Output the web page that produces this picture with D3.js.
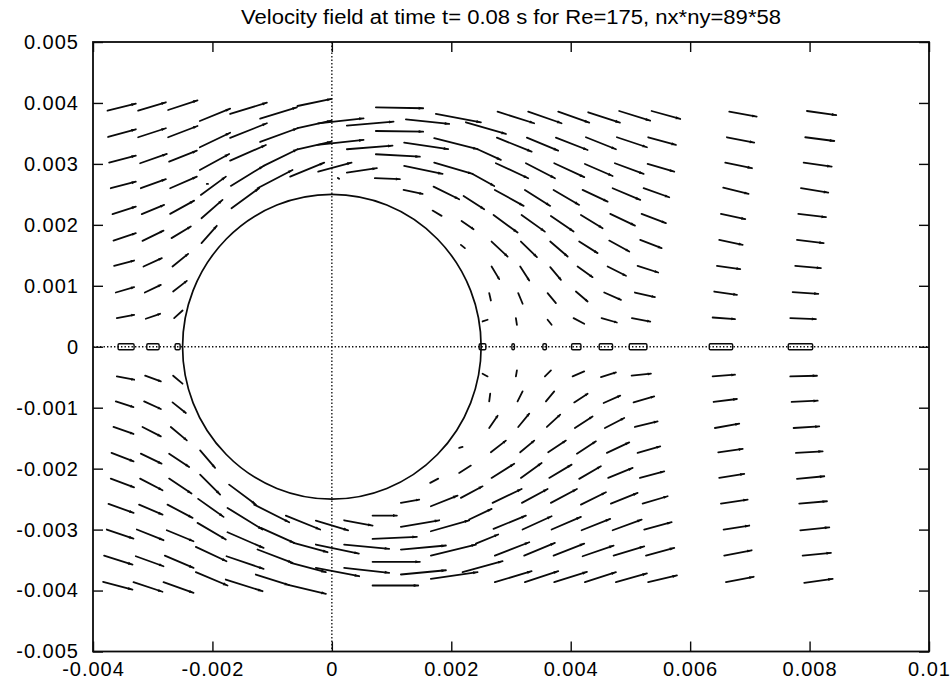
<!DOCTYPE html>
<html>
<head>
<meta charset="utf-8">
<script src="https://cdn.jsdelivr.net/npm/d3@7"></script>
<style>
  body { margin: 0; background: #fff; }
  svg text { font-family: "Liberation Sans", Arial, Helvetica, sans-serif; fill: #000; }
</style>
</head>
<body>
<svg id="chart" width="950" height="693"></svg>
<script>
// ---- labels and ticks ----
const titleText = "Velocity field at time t= 0.08 s for Re=175, nx*ny=89*58";
const xTicks = [-0.004, -0.002, 0, 0.002, 0.004, 0.006, 0.008, 0.01];
const xTickLabels = ["-0.004", "-0.002", "0", "0.002", "0.004", "0.006", "0.008", "0.01"];
const yTicks = [-0.005, -0.004, -0.003, -0.002, -0.001, 0, 0.001, 0.002, 0.003, 0.004, 0.005];
const yTickLabels = ["-0.005", "-0.004", "-0.003", "-0.002", "-0.001", "0", "0.001", "0.002", "0.003", "0.004", "0.005"];

// cylinder (m)
const cylinder = { cx: 0, cy: 0, r: 0.0025 };

// ---- velocity vectors: [x, y, dx, dy] in metres ----
const upstream = [
  [-0.003757, 0.003873, 0.000474, 0.000115], [-0.003747, 0.003442, 0.000464, 0.000126],
  [-0.003730, 0.003021, 0.000447, 0.000115], [-0.003702, 0.002601, 0.000419, 0.000108],
  [-0.003673, 0.002175, 0.000390, 0.000125], [-0.003657, 0.001742, 0.000374, 0.000121],
  [-0.003647, 0.001328, 0.000335, 0.000087], [-0.003618, 0.000890, 0.000307, 0.000089],
  [-0.003601, 0.000470, 0.000290, 0.000054], [-0.003601, -0.000487, 0.000290, -0.000054],
  [-0.003618, -0.000897, 0.000296, -0.000092], [-0.003657, -0.001316, 0.000335, -0.000115],
  [-0.003690, -0.001742, 0.000369, -0.000138], [-0.003702, -0.002163, 0.000390, -0.000143],
  [-0.003740, -0.002578, 0.000419, -0.000148], [-0.003769, -0.002999, 0.000447, -0.000148],
  [-0.003814, -0.003426, 0.000476, -0.000148], [-0.003831, -0.003857, 0.000492, -0.000126],

  [-0.003244, 0.003873, 0.000464, 0.000138], [-0.003244, 0.003437, 0.000464, 0.000148],
  [-0.003211, 0.003011, 0.000447, 0.000152], [-0.003199, 0.002601, 0.000419, 0.000148],
  [-0.003183, 0.002175, 0.000374, 0.000152], [-0.003171, 0.001737, 0.000352, 0.000169],
  [-0.003154, 0.001316, 0.000307, 0.000138], [-0.003132, 0.000890, 0.000268, 0.000126],
  [-0.003116, 0.000459, 0.000240, 0.000082], [-0.003127, -0.000475, 0.000263, -0.000093],
  [-0.003144, -0.000897, 0.000280, -0.000125], [-0.003171, -0.001316, 0.000307, -0.000154],
  [-0.003199, -0.001754, 0.000347, -0.000164], [-0.003211, -0.002163, 0.000375, -0.000192],
  [-0.003228, -0.002590, 0.000392, -0.000164], [-0.003266, -0.002999, 0.000447, -0.000175],
  [-0.003283, -0.003437, 0.000464, -0.000164], [-0.003322, -0.003863, 0.000486, -0.000157],

  [-0.002742, 0.003884, 0.000492, 0.000159], [-0.002742, 0.003437, 0.000492, 0.000185],
  [-0.002725, 0.003037, 0.000464, 0.000180], [-0.002708, 0.002601, 0.000447, 0.000190],
  [-0.002708, 0.002180, 0.000402, 0.000218], [-0.002685, 0.001782, 0.000323, 0.000190],
  [-0.002668, 0.001316, 0.000261, 0.000208], [-0.002658, 0.000906, 0.000229, 0.000175],
  [-0.002641, 0.000470, 0.000141, 0.000125], [-0.002658, -0.000475, 0.000157, -0.000131],
  [-0.002668, -0.000913, 0.000223, -0.000174], [-0.002697, -0.001316, 0.000268, -0.000220],
  [-0.002725, -0.001754, 0.000335, -0.000218], [-0.002725, -0.002163, 0.000375, -0.000246],
  [-0.002752, -0.002590, 0.000419, -0.000218], [-0.002764, -0.003011, 0.000447, -0.000180],
  [-0.002797, -0.003426, 0.000481, -0.000202], [-0.002819, -0.003863, 0.000503, -0.000174]
];

const aboveCylinder = [
  [-0.002211, 0.003704, 0.000508, 0.000202], [-0.002211, 0.003273, 0.000508, 0.000239],
  [-0.002211, 0.002901, 0.000491, 0.000262], [-0.002194, 0.002491, 0.000419, 0.000300],
  [-0.002183, 0.002109, 0.000352, 0.000300], [-0.002183, 0.001700, 0.000256, 0.000284],

  [-0.001703, 0.003819, 0.000615, 0.000185], [-0.001703, 0.003426, 0.000615, 0.000241],
  [-0.001703, 0.003053, 0.000598, 0.000257], [-0.001692, 0.002639, 0.000548, 0.000328],
  [-0.001680, 0.002273, 0.000462, 0.000328],

  [-0.001201, 0.003742, 0.000615, 0.000187], [-0.001201, 0.003360, 0.000626, 0.000225],
  [-0.001144, 0.002967, 0.000570, 0.000274], [-0.001245, 0.002601, 0.000586, 0.000300],

  [-0.000575, 0.003950, 0.000570, 0.000115], [-0.000575, 0.003585, 0.000570, 0.000125],
  [-0.000575, 0.003240, 0.000570, 0.000125], [-0.000698, 0.002791, 0.000570, 0.000229],

  [-0.000229, 0.003666, 0.000760, 0.000082], [-0.000240, 0.003311, 0.000771, 0.000082],
  [-0.000229, 0.002873, 0.000559, 0.000148],

  [0.000251, 0.003627, 0.000782, 0.000066], [0.000251, 0.003240, 0.000765, 0.000059],
  [0.000251, 0.002857, 0.000503, 0.000072],

  [0.000737, 0.003929, 0.000792, -0.000016], [0.000737, 0.003540, 0.000792, -0.000011],
  [0.000737, 0.003158, 0.000737, -0.000039], [0.000720, 0.002765, 0.000419, -0.000016],

  [0.001240, 0.003732, 0.000725, -0.000077], [0.001211, 0.003349, 0.000737, -0.000108],
  [0.001211, 0.002967, 0.000643, -0.000131], [0.001201, 0.002573, 0.000318, -0.000066],

  [0.001742, 0.003819, 0.000754, -0.000136], [0.001714, 0.003421, 0.000727, -0.000180],
  [0.001714, 0.003021, 0.000643, -0.000185], [0.001703, 0.002627, 0.000429, -0.000207],
  [0.001687, 0.002234, 0.000151, -0.000087],

  [0.002245, 0.003683, 0.000670, -0.000192], [0.002440, 0.003240, 0.000390, -0.000175],
  [0.002357, 0.002835, 0.000362, -0.000197], [0.002206, 0.002475, 0.000345, -0.000218],
  [0.002172, 0.002065, 0.000201, -0.000136], [0.002161, 0.001672, 0.000067, -0.000054]
];

const belowCylinder = [
  [-0.002206, -0.001700, 0.000251, -0.000288], [-0.002206, -0.002098, 0.000335, -0.000328],
  [-0.002239, -0.002496, 0.000425, -0.000295], [-0.002250, -0.002890, 0.000474, -0.000274],
  [-0.002278, -0.003283, 0.000514, -0.000236], [-0.002278, -0.003699, 0.000531, -0.000218],

  [-0.001720, -0.002262, 0.000447, -0.000328], [-0.001747, -0.002644, 0.000586, -0.000356],
  [-0.001747, -0.003044, 0.000603, -0.000256], [-0.001764, -0.003437, 0.000620, -0.000207],
  [-0.001776, -0.003819, 0.000615, -0.000192],

  [-0.001301, -0.002590, 0.000586, -0.000290], [-0.001189, -0.002972, 0.000558, -0.000246],
  [-0.001245, -0.003327, 0.000586, -0.000218], [-0.001273, -0.003737, 0.000558, -0.000175],

  [-0.000771, -0.002770, 0.000575, -0.000229], [-0.000642, -0.003217, 0.000570, -0.000154],
  [-0.000687, -0.003545, 0.000586, -0.000154], [-0.000715, -0.003912, 0.000615, -0.000141],

  [-0.000268, -0.002852, 0.000541, -0.000159], [-0.000268, -0.003245, 0.000720, -0.000148],
  [-0.000268, -0.003627, 0.000725, -0.000138],

  [0.000206, -0.002847, 0.000476, -0.000087], [0.000206, -0.003245, 0.000754, -0.000070],
  [0.000206, -0.003627, 0.000754, -0.000082],

  [0.000682, -0.002770, 0.000407, 0.000000], [0.000682, -0.003152, 0.000742, 0.000033],
  [0.000682, -0.003529, 0.000792, 0.000000], [0.000682, -0.003917, 0.000764, 0.000000],

  [0.001156, -0.002562, 0.000307, 0.000054], [0.001156, -0.002955, 0.000642, 0.000108],
  [0.001156, -0.003327, 0.000754, 0.000066], [0.001156, -0.003737, 0.000754, 0.000070],

  [0.001647, -0.002234, 0.000134, 0.000070], [0.001658, -0.002617, 0.000447, 0.000175],
  [0.001658, -0.003027, 0.000642, 0.000180], [0.001658, -0.003426, 0.000754, 0.000180],
  [0.001658, -0.003807, 0.000782, 0.000108],

  [0.002132, -0.001660, 0.000057, 0.000016], [0.002132, -0.002070, 0.000196, 0.000120],
  [0.002161, -0.002480, 0.000363, 0.000190], [0.002300, -0.002835, 0.000375, 0.000175],
  [0.002412, -0.003229, 0.000374, 0.000148], [0.002189, -0.003699, 0.000670, 0.000180]
];

const wake = [
  [0.002775, 0.003857, 0.000613, -0.000190], [0.002764, 0.003430, 0.000581, -0.000229],
  [0.002747, 0.003011, 0.000541, -0.000246], [0.002730, 0.002573, 0.000481, -0.000262],
  [0.002708, 0.002163, 0.000402, -0.000290], [0.002675, 0.001726, 0.000268, -0.000246],
  [0.002675, 0.001316, 0.000127, -0.000207], [0.002635, 0.000880, 0.000028, -0.000121],
  [0.002524, 0.000415, 0.000084, 0.000028], [0.002524, -0.000443, 0.000084, -0.000044],
  [0.002635, -0.000897, 0.000017, 0.000126], [0.002635, -0.001333, 0.000141, 0.000202],
  [0.002663, -0.001732, 0.000251, 0.000192], [0.002675, -0.002152, 0.000379, 0.000234],
  [0.002692, -0.002562, 0.000486, 0.000229], [0.002708, -0.002988, 0.000541, 0.000218],
  [0.002730, -0.003426, 0.000575, 0.000218], [0.002730, -0.003863, 0.000615, 0.000180],

  [0.003288, 0.003857, 0.000559, -0.000190], [0.003266, 0.003430, 0.000524, -0.000213],
  [0.003250, 0.003011, 0.000486, -0.000246], [0.003233, 0.002573, 0.000424, -0.000262],
  [0.003177, 0.002163, 0.000390, -0.000274], [0.003166, 0.001726, 0.000268, -0.000256],
  [0.003154, 0.001316, 0.000151, -0.000229], [0.003121, 0.000880, 0.000074, -0.000175],
  [0.003082, 0.000470, 0.000017, -0.000110], [0.003082, -0.000487, 0.000017, 0.000098],
  [0.003110, -0.000897, 0.000084, 0.000164], [0.003121, -0.001316, 0.000184, 0.000218],
  [0.003154, -0.001732, 0.000235, 0.000192], [0.003166, -0.002152, 0.000347, 0.000246],
  [0.003183, -0.002562, 0.000430, 0.000229], [0.003194, -0.002999, 0.000486, 0.000218],
  [0.003221, -0.003426, 0.000514, 0.000208], [0.003233, -0.003863, 0.000558, 0.000180],

  [0.003791, 0.003857, 0.000519, -0.000180], [0.003752, 0.003430, 0.000531, -0.000202],
  [0.003724, 0.003011, 0.000503, -0.000229], [0.003713, 0.002573, 0.000429, -0.000246],
  [0.003668, 0.002147, 0.000380, -0.000257], [0.003657, 0.001726, 0.000291, -0.000246],
  [0.003657, 0.001306, 0.000179, -0.000208], [0.003613, 0.000880, 0.000139, -0.000164],
  [0.003613, 0.000443, 0.000067, -0.000082], [0.003568, -0.000487, 0.000101, 0.000098],
  [0.003585, -0.000897, 0.000139, 0.000164], [0.003601, -0.001316, 0.000223, 0.000202],
  [0.003623, -0.001732, 0.000296, 0.000192], [0.003640, -0.002152, 0.000375, 0.000218],
  [0.003668, -0.002562, 0.000436, 0.000229], [0.003680, -0.002999, 0.000491, 0.000208],
  [0.003713, -0.003426, 0.000513, 0.000197], [0.003724, -0.003863, 0.000548, 0.000170],

  [0.004293, 0.003847, 0.000531, -0.000170], [0.004255, 0.003437, 0.000503, -0.000197],
  [0.004238, 0.002999, 0.000464, -0.000197], [0.004199, 0.002573, 0.000419, -0.000192],
  [0.004171, 0.002163, 0.000363, -0.000218], [0.004142, 0.001726, 0.000308, -0.000190],
  [0.004115, 0.001316, 0.000251, -0.000174], [0.004087, 0.000906, 0.000196, -0.000164],
  [0.004048, 0.000470, 0.000178, -0.000093], [0.004032, -0.000487, 0.000194, 0.000082],
  [0.004059, -0.000913, 0.000224, 0.000143], [0.004070, -0.001333, 0.000296, 0.000190],
  [0.004104, -0.001754, 0.000318, 0.000202], [0.004142, -0.002168, 0.000363, 0.000207],
  [0.004171, -0.002590, 0.000419, 0.000202], [0.004182, -0.003011, 0.000479, 0.000187],
  [0.004199, -0.003437, 0.000519, 0.000175], [0.004238, -0.003863, 0.000519, 0.000164],

  [0.004812, 0.003868, 0.000519, -0.000159], [0.004774, 0.003437, 0.000503, -0.000164],
  [0.004740, 0.003011, 0.000481, -0.000175], [0.004702, 0.002601, 0.000462, -0.000192],
  [0.004662, 0.002180, 0.000414, -0.000192], [0.004645, 0.001742, 0.000335, -0.000180],
  [0.004618, 0.001316, 0.000307, -0.000152], [0.004561, 0.000890, 0.000280, -0.000120],
  [0.004517, 0.000470, 0.000256, -0.000072], [0.004506, -0.000497, 0.000251, 0.000075],
  [0.004551, -0.000923, 0.000278, 0.000120], [0.004573, -0.001333, 0.000323, 0.000164],
  [0.004606, -0.001742, 0.000374, 0.000174], [0.004628, -0.002152, 0.000409, 0.000164],
  [0.004673, -0.002573, 0.000447, 0.000175], [0.004702, -0.003011, 0.000486, 0.000175],
  [0.004718, -0.003426, 0.000513, 0.000152], [0.004757, -0.003863, 0.000519, 0.000143],

  [0.005355, 0.003868, 0.000479, -0.000131], [0.005298, 0.003437, 0.000464, -0.000126],
  [0.005288, 0.002999, 0.000446, -0.000126], [0.005221, 0.002601, 0.000429, -0.000148],
  [0.005187, 0.002180, 0.000407, -0.000152], [0.005164, 0.001754, 0.000358, -0.000136],
  [0.005120, 0.001328, 0.000345, -0.000110], [0.005075, 0.000890, 0.000335, -0.000075],
  [0.005025, 0.000470, 0.000307, -0.000056], [0.005020, -0.000475, 0.000323, 0.000033],
  [0.005053, -0.000913, 0.000345, 0.000098], [0.005075, -0.001316, 0.000380, 0.000092],
  [0.005120, -0.001742, 0.000379, 0.000108], [0.005159, -0.002152, 0.000407, 0.000108],
  [0.005204, -0.002573, 0.000419, 0.000120], [0.005231, -0.002999, 0.000459, 0.000120],
  [0.005260, -0.003426, 0.000474, 0.000126], [0.005298, -0.003863, 0.000481, 0.000110]
];

const downstream = [
  [0.006655, 0.003857, 0.000459, -0.000082], [0.006616, 0.003437, 0.000457, -0.000089],
  [0.006588, 0.003021, 0.000447, -0.000092], [0.006554, 0.002611, 0.000425, -0.000103],
  [0.006516, 0.002180, 0.000407, -0.000087], [0.006487, 0.001754, 0.000392, -0.000082],
  [0.006449, 0.001328, 0.000390, -0.000054], [0.006404, 0.000906, 0.000380, -0.000054],
  [0.006377, 0.000480, 0.000374, -0.000026], [0.006377, -0.000487, 0.000374, 0.000028],
  [0.006393, -0.000906, 0.000390, 0.000049], [0.006415, -0.001333, 0.000407, 0.000070],
  [0.006471, -0.001732, 0.000409, 0.000056], [0.006487, -0.002152, 0.000419, 0.000066],
  [0.006516, -0.002573, 0.000447, 0.000066], [0.006561, -0.002999, 0.000429, 0.000066],
  [0.006571, -0.003426, 0.000459, 0.000087], [0.006600, -0.003863, 0.000464, 0.000089],

  [0.007956, 0.003868, 0.000491, -0.000066], [0.007928, 0.003437, 0.000486, -0.000061],
  [0.007901, 0.003021, 0.000469, -0.000066], [0.007856, 0.002601, 0.000457, -0.000072],
  [0.007811, 0.002180, 0.000464, -0.000054], [0.007789, 0.001754, 0.000447, -0.000054],
  [0.007760, 0.001328, 0.000430, -0.000038], [0.007717, 0.000897, 0.000429, -0.000028],
  [0.007677, 0.000470, 0.000430, -0.000016], [0.007677, -0.000487, 0.000447, 0.000011],
  [0.007700, -0.000906, 0.000436, 0.000021], [0.007733, -0.001333, 0.000429, 0.000026],
  [0.007772, -0.001742, 0.000447, 0.000026], [0.007789, -0.002168, 0.000457, 0.000043],
  [0.007827, -0.002573, 0.000464, 0.000038], [0.007844, -0.003011, 0.000486, 0.000049],
  [0.007884, -0.003426, 0.000474, 0.000044], [0.007911, -0.003873, 0.000476, 0.000066]
];

// nearly stagnant points
const specks = [
  [0.000101, 0.002770, 0.000020, -0.000015],
  [-0.002094, 0.002672, 0.000020, 0.000000]
];

// vectors lying on the symmetry line y = 0: [x, dx]
const axisVectors = [
  [-0.003580, 0.000268], [-0.003099, 0.000206], [-0.002625, 0.000084],
  [0.002467, 0.000112], [0.003015, 0.000042], [0.003534, 0.000059],
  [0.004015, 0.000156], [0.004477, 0.000224], [0.004980, 0.000296],
  [0.006320, 0.000392], [0.007643, 0.000409]
];

// ---- drawing ----
const svg = d3.select("#chart");
const x = d3.scaleLinear().domain([-0.004, 0.01]).range([93, 929]);
const y = d3.scaleLinear().domain([-0.005, 0.005]).range([651.5, 42]);
const ink = "#0a0a0a";

const labelFor = (ticks, labels) => v => labels[ticks.indexOf(v)];

function styleAxis(g) {
  g.select(".domain").remove();
  g.selectAll(".tick line").attr("stroke", ink).attr("stroke-width", 1.4);
  g.selectAll(".tick text")
    .attr("font-family", null).attr("fill", ink)
    .style("font-size", "20px").style("letter-spacing", "1px");
  g.attr("font-family", null).attr("font-size", null);
}

// bottom axis with labels
svg.append("g")
  .attr("transform", `translate(0,${y(-0.005)})`)
  .call(d3.axisBottom(x).tickValues(xTicks).tickFormat(labelFor(xTicks, xTickLabels))
    .tickSizeInner(-10).tickSizeOuter(0).tickPadding(10))
  .call(styleAxis);

// left axis with labels
svg.append("g")
  .attr("transform", `translate(${x(-0.004)},0)`)
  .call(d3.axisLeft(y).tickValues(yTicks).tickFormat(labelFor(yTicks, yTickLabels))
    .tickSizeInner(-10).tickSizeOuter(0).tickPadding(14))
  .call(styleAxis);

// mirrored tick marks on top and right
svg.append("g")
  .attr("transform", `translate(0,${y(0.005)})`)
  .call(d3.axisTop(x).tickValues(xTicks).tickFormat("").tickSizeInner(-10).tickSizeOuter(0))
  .call(styleAxis);
svg.append("g")
  .attr("transform", `translate(${x(0.01)},0)`)
  .call(d3.axisRight(y).tickValues(yTicks).tickFormat("").tickSizeInner(-10).tickSizeOuter(0))
  .call(styleAxis);

// dotted zero axes
const zero = svg.append("g").attr("stroke", ink).attr("stroke-width", 1.3)
  .attr("stroke-dasharray", "1.4,2.1");
zero.append("line").attr("x1", x(-0.004)).attr("x2", x(0.01)).attr("y1", y(0)).attr("y2", y(0));
zero.append("line").attr("x1", x(0)).attr("x2", x(0)).attr("y1", y(0.005)).attr("y2", y(-0.005));

// plot frame
svg.append("rect")
  .attr("x", x(-0.004)).attr("y", y(0.005))
  .attr("width", x(0.01) - x(-0.004)).attr("height", y(-0.005) - y(0.005))
  .attr("fill", "none").attr("stroke", ink).attr("stroke-width", 1.8);

// cylinder outline
svg.append("ellipse")
  .attr("cx", x(cylinder.cx)).attr("cy", y(cylinder.cy))
  .attr("rx", x(cylinder.cx + cylinder.r) - x(cylinder.cx))
  .attr("ry", y(cylinder.cy) - y(cylinder.cy + cylinder.r))
  .attr("fill", "none").attr("stroke", ink).attr("stroke-width", 1.7);

// vectors
const vectors = [...upstream, ...aboveCylinder, ...belowCylinder, ...wake, ...downstream, ...specks]
  .map(([x0, y0, dx, dy]) => {
    const p0 = [x(x0), y(y0)], p1 = [x(x0 + dx), y(y0 + dy)];
    return { p0, p1, len: Math.hypot(p1[0] - p0[0], p1[1] - p0[1]) };
  });

const vg = svg.append("g");
vg.selectAll("line").data(vectors).join("line")
  .attr("x1", d => d.p0[0]).attr("y1", d => d.p0[1])
  .attr("x2", d => d.p1[0]).attr("y2", d => d.p1[1])
  .attr("stroke", ink).attr("stroke-width", 1.8).attr("stroke-linecap", "round");

vg.selectAll("path").data(vectors.filter(d => d.len > 14)).join("path")
  .attr("fill", ink)
  .attr("d", d => {
    const ux = (d.p1[0] - d.p0[0]) / d.len, uy = (d.p1[1] - d.p0[1]) / d.len;
    const h = Math.min(4.5, d.len * 0.16), w = 1.5;
    const bx = d.p1[0] - ux * h, by = d.p1[1] - uy * h;
    return `M${d.p1[0]},${d.p1[1]}L${bx - uy * w},${by + ux * w}L${bx + uy * w},${by - ux * w}Z`;
  });

// vectors on the centre line
vg.selectAll("rect").data(axisVectors).join("rect")
  .attr("x", d => x(d[0])).attr("width", d => x(d[0] + d[1]) - x(d[0]))
  .attr("y", y(0) - 3).attr("height", 6).attr("rx", 1.2)
  .attr("fill", "none").attr("stroke", ink).attr("stroke-width", 1.4);

// title
svg.append("text")
  .attr("x", (x(-0.004) + x(0.01)) / 2).attr("y", 24)
  .attr("text-anchor", "middle")
  .attr("textLength", 540).attr("lengthAdjust", "spacingAndGlyphs")
  .style("font-size", "20px")
  .text(titleText);
</script>
</body>
</html>
